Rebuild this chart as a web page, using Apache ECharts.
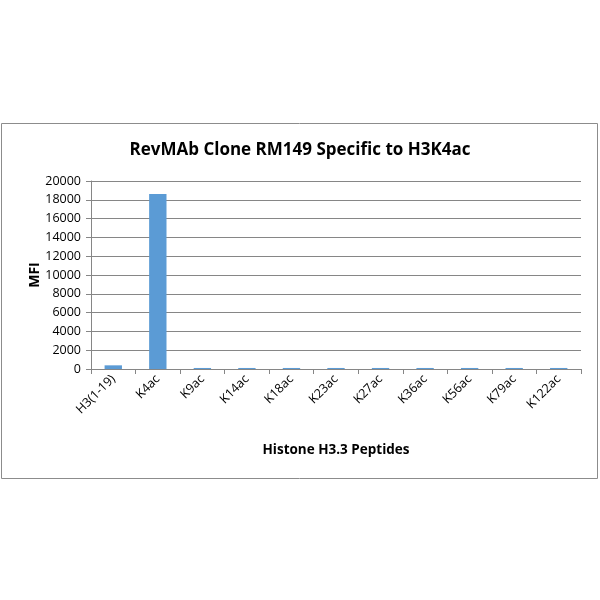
<!DOCTYPE html>
<html><head><meta charset="utf-8">
<script src="https://cdn.jsdelivr.net/npm/echarts@6/dist/echarts.min.js"></script>
<style>html,body{margin:0;padding:0;background:#fff}#c{width:600px;height:600px}</style>
</head><body><div id="c"></div>
<script>
const categories = ['H3(1-19)','K4ac','K9ac','K14ac','K18ac','K23ac','K27ac','K36ac','K56ac','K79ac','K122ac'];
const mfiValues = [390,18620,110,110,110,110,110,110,110,110,110];
const yTicks = {min:0, max:20000, interval:2000};
const chart = echarts.init(document.getElementById('c'));
const font = 'Open Sans';
chart.setOption({
  animation:false,
  graphic:[{type:'rect',shape:{x:1.5,y:123.5,width:596,height:355},style:{fill:'none',stroke:'#8c8c8c',lineWidth:1}}],
  title:{text:'RevMAb Clone RM149 Specific to H3K4ac',left:'center',top:137,
    textStyle:{fontFamily:font,fontSize:17,fontWeight:'bold',color:'#000'}},
  grid:{left:91,right:19,top:181,bottom:231,containLabel:false},
  xAxis:{type:'category',data:categories,
    axisLine:{lineStyle:{color:'#868686'}},
    axisTick:{show:true,length:5,lineStyle:{color:'#868686'}},
    axisLabel:{rotate:45,interval:0,fontFamily:font,fontSize:12.5,color:'#000',margin:8},
    name:'Histone H3.3 Peptides',nameLocation:'middle',nameGap:74,nameMoveOverlap:false,
    nameTextStyle:{fontFamily:font,fontSize:13.5,fontWeight:'bold',color:'#000'}},
  yAxis:{type:'value',min:yTicks.min,max:yTicks.max,interval:yTicks.interval,
    axisLine:{show:true,lineStyle:{color:'#868686'}},
    axisTick:{show:true,length:5,inside:false,lineStyle:{color:'#868686'}},
    splitLine:{lineStyle:{color:'#868686'}},
    axisLabel:{fontFamily:font,fontSize:12.5,color:'#000',margin:10,formatter:v=>String(v)},
    name:'MFI',nameLocation:'middle',nameGap:49,nameRotate:90,nameMoveOverlap:false,
    nameTextStyle:{fontFamily:font,fontSize:14,fontWeight:'bold',color:'#000'}},
  series:[{type:'bar',data:mfiValues,barWidth:'39%',itemStyle:{color:'#5B9BD5'}}]
});
</script></body></html>
